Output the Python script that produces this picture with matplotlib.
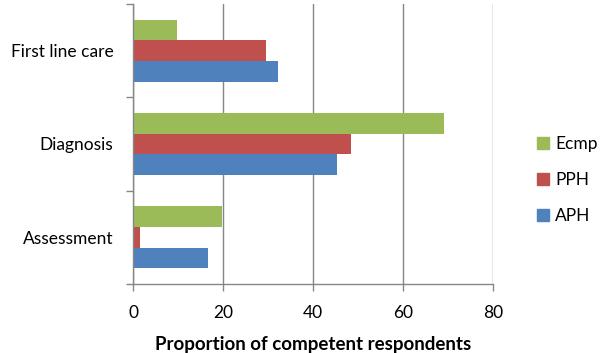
#!/usr/bin/env python3
"""Grouped horizontal bars: proportion of competent respondents by task."""

import matplotlib
matplotlib.use("Agg")
import matplotlib.pyplot as plt
from matplotlib.patches import Patch
import numpy as np

CATEGORIES = ["Assessment", "Diagnosis", "First line care"]
SERIES = ["APH", "PPH", "Ecmp"]
APH = [16.6, 45.2, 32.1]
PPH = [1.6, 48.3, 29.6]
ECMP = [19.8, 69.0, 9.8]
X_TICKS = [0, 20, 40, 60, 80]

COLORS = {"APH": "#4F81BD", "PPH": "#C0504D", "Ecmp": "#9BBB59"}
GRID = "#868686"

plt.rcParams["font.family"] = ["Lato", "DejaVu Sans"]

fig = plt.figure(figsize=(6.0, 3.53), dpi=100)
ax = fig.add_axes([0.2217, 0.1955, 0.6005, 0.7932])

y = np.arange(len(CATEGORIES))
h = 0.222
values = {"APH": APH, "PPH": PPH, "Ecmp": ECMP}
for i, name in enumerate(SERIES):
    ax.barh(y + (i - 1) * h, values[name], height=h, color=COLORS[name], label=name)

ax.set_xlim(0, 80)
ax.set_ylim(-0.5, len(CATEGORIES) - 0.5)
ax.set_xticks(X_TICKS)
ax.set_xticklabels([str(t) for t in X_TICKS], fontsize=12.5)

# category boundaries get the ticks, labels sit on the minor ticks
ax.set_yticks(np.arange(-0.5, len(CATEGORIES)))
ax.set_yticklabels([])
ax.set_yticks(y, minor=True)
ax.set_yticklabels(CATEGORIES, minor=True, fontsize=12.5)
ax.tick_params(axis="y", which="minor", length=0, pad=14)
ax.tick_params(axis="y", which="major", length=5, color=GRID, width=1)
ax.tick_params(axis="x", length=5, color=GRID, width=1, pad=10)

ax.grid(axis="x", color=GRID, linewidth=1)
ax.set_axisbelow(True)
for side in ("top", "right"):
    ax.spines[side].set_visible(False)
for side in ("left", "bottom"):
    ax.spines[side].set_color(GRID)
    ax.spines[side].set_linewidth(1)

ax.set_xlabel("Proportion of competent respondents", fontsize=13.5,
              fontweight="bold", labelpad=11)

handles = [Patch(color=COLORS[n], label=n) for n in reversed(SERIES)]
fig.legend(handles=handles, loc="center left", bbox_to_anchor=(0.895, 0.49),
           frameon=False, fontsize=12.5, handlelength=0.7, handleheight=0.7,
           handletextpad=0.35, labelspacing=1.15, borderpad=0, borderaxespad=0)

fig.savefig("out.png", dpi=100)
